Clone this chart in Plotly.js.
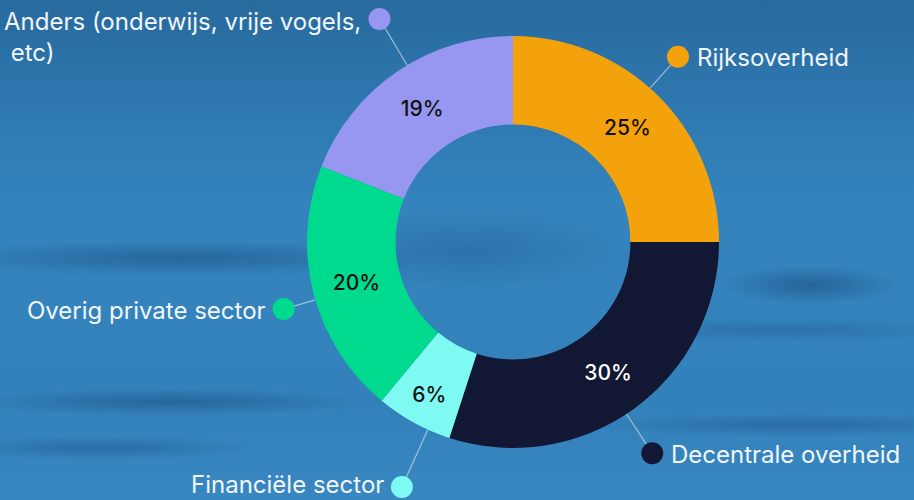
<!DOCTYPE html>
<html>
<head>
<meta charset="utf-8">
<script src="https://cdn.plot.ly/plotly-3.0.1.min.js"></script>
<style>
  html, body { margin: 0; padding: 0; }
  #chart {
    width: 914px; height: 500px;
    background:
      radial-gradient(ellipse 260px 18px at 180px 258px, rgba(25,75,125,0.5), rgba(25,75,125,0)),
      radial-gradient(ellipse 90px 20px at 810px 285px, rgba(25,75,125,0.55), rgba(25,75,125,0)),
      radial-gradient(ellipse 200px 14px at 170px 402px, rgba(25,75,125,0.5), rgba(25,75,125,0)),
      radial-gradient(ellipse 160px 12px at 100px 448px, rgba(25,75,125,0.4), rgba(25,75,125,0)),
      radial-gradient(ellipse 220px 12px at 800px 425px, rgba(25,75,125,0.4), rgba(25,75,125,0)),
      radial-gradient(ellipse 200px 12px at 780px 330px, rgba(25,75,125,0.3), rgba(25,75,125,0)),
      radial-gradient(ellipse 160px 40px at 470px 250px, rgba(25,75,125,0.3), rgba(25,75,125,0)),
      linear-gradient(180deg, #276a9e 0%, #2d76ad 18%, #3483bc 40%, #3483bc 60%, #3381ba 80%, #3887c1 100%);
  }
</style>
</head>
<body>
<div id="chart"></div>
<script>
// ---- data ----
const labels = ['Rijksoverheid', 'Decentrale overheid', 'Financiële sector', 'Overig private sector', 'Anders (onderwijs, vrije vogels,<br> etc)'];
const values = [25, 30, 6, 20, 19];
const colors = ['#F4A20C', '#121833', '#7FFAF2', '#00DA8F', '#9797F1'];
const pctTextColors = ['#111111', '#FFFFFF', '#111111', '#111111', '#111111'];

// ---- layout geometry (pixels) ----
const W = 914, H = 500;
const cx = 513, cy = 242, R = 206;
const dotFactor = [1.204, 1.228, 1.306, 1.16, 1.262];
const dotAngleShift = [-3.3, 2.6, -4.4, -1.9, 3.3];
const labelSide = ['right', 'right', 'left', 'left', 'left'];
const labelDy = [1, 1, -3, 1, -14];
const FONT = 'Inter, Lato, sans-serif';

const total = values.reduce((a, b) => a + b, 0);
let cum = 0;
const lineX = [], lineY = [], dotX = [], dotY = [];
const annotations = [];
values.forEach((v, i) => {
  const mid = (cum + v / 2) / total * 2 * Math.PI + dotAngleShift[i] * Math.PI / 180;
  cum += v;
  const ex = cx + R * Math.sin(mid), ey = cy - R * Math.cos(mid);
  const dx = cx + R * dotFactor[i] * Math.sin(mid), dy = cy - R * dotFactor[i] * Math.cos(mid);
  lineX.push(ex, dx, null); lineY.push(ey, dy, null);
  dotX.push(dx); dotY.push(dy);
  const right = labelSide[i] === 'right';
  const multi = labels[i].indexOf('<br>') >= 0;
  annotations.push({
    xref: 'x', yref: 'y',
    x: right ? dx + 17 : dx - 16,
    y: dy + labelDy[i],
    xanchor: right ? 'left' : 'right',
    yanchor: multi ? 'top' : 'middle',
    align: 'left',
    text: labels[i],
    showarrow: false,
    font: { family: FONT, size: 24, color: '#F2F6FA' }
  });
});

const pie = {
  type: 'pie',
  labels: labels,
  values: values,
  sort: false,
  direction: 'clockwise',
  rotation: 0,
  hole: 0.57,
  marker: { colors: colors, line: { width: 0 } },
  texttemplate: '%{value}%',
  textposition: 'inside',
  insidetextorientation: 'horizontal',
  textfont: { family: FONT, size: 21, color: pctTextColors, weight: 500 },
  hoverinfo: 'label+percent',
  showlegend: false,
  domain: { x: [(cx - R) / W, (cx + R) / W], y: [(H - cy - R) / H, (H - cy + R) / H] }
};

const leaders = {
  type: 'scatter', mode: 'lines', x: lineX, y: lineY,
  line: { color: 'rgba(230,235,240,0.6)', width: 1.2 },
  hoverinfo: 'skip', showlegend: false
};
const dots = {
  type: 'scatter', mode: 'markers', x: dotX, y: dotY,
  marker: { size: 22, color: colors, line: { width: 0 } },
  hoverinfo: 'skip', showlegend: false
};

const layout = {
  width: W, height: H,
  margin: { l: 0, r: 0, t: 0, b: 0 },
  paper_bgcolor: 'rgba(0,0,0,0)',
  plot_bgcolor: 'rgba(0,0,0,0)',
  xaxis: { range: [0, W], visible: false, fixedrange: true },
  yaxis: { range: [H, 0], visible: false, fixedrange: true },
  annotations: annotations,
  showlegend: false
};

Plotly.newPlot('chart', [leaders, pie, dots], layout, { displayModeBar: false, staticPlot: true });
</script>
</body>
</html>
